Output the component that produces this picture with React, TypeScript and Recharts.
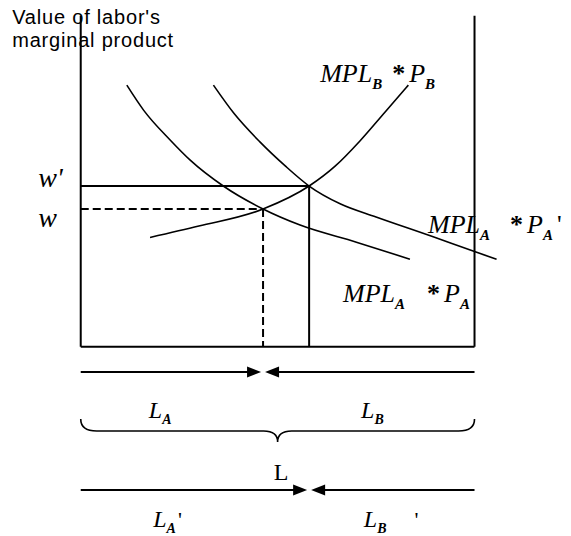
import React from 'react'
import { ComposedChart, Line, XAxis, YAxis, ReferenceLine, ReferenceDot } from 'recharts'

// x: labor going to sector A (0..100 = total L), y: value of labor's marginal product
const mplA = [
  { x: 11.7, y: 83.0 },
  { x: 16.0, y: 75.0 },
  { x: 22.7, y: 65.6 },
  { x: 27.8, y: 59.2 },
  { x: 36.2, y: 51.0 },
  { x: 46.3, y: 43.7 },
  { x: 55.7, y: 38.6 },
  { x: 70.0, y: 33.2 },
  { x: 83.6, y: 27.8 },
]

const mplAPrime = [
  { x: 33.7, y: 83.0 },
  { x: 39.0, y: 73.9 },
  { x: 45.5, y: 65.0 },
  { x: 52.0, y: 57.3 },
  { x: 58.0, y: 51.0 },
  { x: 66.0, y: 45.3 },
  { x: 75.0, y: 41.2 },
  { x: 89.5, y: 34.9 },
  { x: 100.0, y: 30.2 },
  { x: 105.6, y: 27.8 },
]

// sector B's curve, drawn against labor measured from the right wall
const mplB = [
  { x: 17.6, y: 34.7 },
  { x: 30.0, y: 38.3 },
  { x: 46.3, y: 43.7 },
  { x: 58.0, y: 51.0 },
  { x: 64.6, y: 57.3 },
  { x: 70.9, y: 65.3 },
  { x: 77.3, y: 74.5 },
  { x: 83.2, y: 83.0 },
]

const wageLevels = [43.7, 51.0] // w, w'
const laborSplit = [46.3, 58.0] // L_A, L_A'
const totalLabor = 100
const axisTop = 105

// layout
const X_DOMAIN = [-20.5, 124.5]
const Y_DOMAIN = [-60, 110]
const ARROW_ROWS = [-8, -45.4]
const BRACE_Y = -26.7
const SERIF = '"Liberation Serif", "Times New Roman", serif'
const SANS = '"Liberation Sans", Arial, sans-serif'
const INK = '#000'

const ArrowShape = (p: any) => {
  const { x1, y1, x2 } = p
  const dir = Math.sign(x2 - x1)
  const tip = x2 - dir * 2
  const back = tip - dir * 14
  return (
    <g>
      <line x1={x1} y1={y1} x2={back + dir * 2} y2={y1} stroke={INK} strokeWidth={2} />
      <polygon points={`${tip},${y1} ${back},${y1 - 5.5} ${back},${y1 + 5.5}`} fill={INK} />
    </g>
  )
}

const BraceShape = (p: any) => {
  const { x1, x2, y1 } = p
  const mid = (x1 + x2) / 2
  const d =
    `M${x1},${y1 - 12} Q${x1},${y1} ${x1 + 16},${y1} L${mid - 14},${y1} ` +
    `Q${mid},${y1} ${mid},${y1 + 11} Q${mid},${y1} ${mid + 14},${y1} ` +
    `L${x2 - 16},${y1} Q${x2},${y1} ${x2},${y1 - 12}`
  return <path d={d} fill="none" stroke={INK} strokeWidth={1.6} />
}

const mplText = (sub: string, gap: number, prime: boolean) => (p: any) => (
  <text x={p.viewBox.x} y={p.viewBox.y} fontFamily={SERIF} fontStyle="italic" fontSize={26} fill={INK}>
    <tspan>MPL</tspan>
    <tspan dy={7} fontSize={15} fontWeight="bold">{sub}</tspan>
    <tspan dy={-7} dx={gap} fontStyle="normal" fontWeight="bold">*</tspan>
    <tspan dx={4}>P</tspan>
    <tspan dy={7} fontSize={15} fontWeight="bold">{sub}</tspan>
    {prime && <tspan dy={-7} dx={4} fontStyle="normal">'</tspan>}
  </text>
)

const laborText = (sub: string, prime: number | null) => (p: any) => (
  <text x={p.viewBox.x} y={p.viewBox.y} fontFamily={SERIF} fontStyle="italic" fontSize={24} fill={INK}>
    <tspan>L</tspan>
    <tspan dy={6} fontSize={14} fontWeight="bold">{sub}</tspan>
    {prime !== null && <tspan dy={-6} dx={prime} fontStyle="normal" fontSize={22}>'</tspan>}
  </text>
)

const wageText = (txt: string) => (p: any) => (
  <text x={p.viewBox.x} y={p.viewBox.y} fontFamily={SERIF} fontStyle="italic" fontSize={28} fill={INK}>
    {txt}
  </text>
)

const plainText = (txt: string, anchor: string, font: string, size: number, spacing = 0) => (p: any) => (
  <text x={p.viewBox.x} y={p.viewBox.y} textAnchor={anchor} fontFamily={font} fontSize={size} letterSpacing={spacing} fill={INK}>
    {txt}
  </text>
)

const note = (key: string, x: number, y: number, content: any) => (
  <ReferenceDot key={key} x={x} y={y} r={0} fill="none" stroke="none" label={content} />
)

const curve = (key: string, data: { x: number; y: number }[]) => (
  <Line
    key={key}
    data={data}
    dataKey="y"
    type="monotone"
    stroke={INK}
    strokeWidth={1.6}
    dot={false}
    activeDot={false}
    isAnimationActive={false}
  />
)

export default function App() {
  const [w, wPrime] = wageLevels
  const [la, laPrime] = laborSplit
  return (
    <div style={{ position: 'absolute', left: 0, top: 0, width: 571, height: 536, background: '#fff' }}>
      <ComposedChart width={571} height={536} margin={{ top: 0, right: 0, bottom: 0, left: 0 }}>
        <XAxis type="number" dataKey="x" domain={X_DOMAIN} hide allowDataOverflow />
        <YAxis type="number" dataKey="y" domain={Y_DOMAIN} hide allowDataOverflow />

        {/* box: two vertical axes and the floor */}
        <ReferenceLine segment={[{ x: 0, y: axisTop }, { x: 0, y: 0 }]} stroke={INK} strokeWidth={2} />
        <ReferenceLine segment={[{ x: totalLabor, y: axisTop }, { x: totalLabor, y: 0 }]} stroke={INK} strokeWidth={2} />
        <ReferenceLine segment={[{ x: 0, y: 0 }, { x: totalLabor, y: 0 }]} stroke={INK} strokeWidth={2} />

        {/* equilibrium guides */}
        <ReferenceLine segment={[{ x: 0, y: w }, { x: la, y: w }]} stroke={INK} strokeWidth={2} strokeDasharray="8 4" />
        <ReferenceLine segment={[{ x: la, y: w }, { x: la, y: 0 }]} stroke={INK} strokeWidth={2} strokeDasharray="8 4" />
        <ReferenceLine segment={[{ x: 0, y: wPrime }, { x: laPrime, y: wPrime }]} stroke={INK} strokeWidth={2} />
        <ReferenceLine segment={[{ x: laPrime, y: wPrime }, { x: laPrime, y: 0 }]} stroke={INK} strokeWidth={2} />

        {curve('mplA', mplA)}
        {curve('mplAPrime', mplAPrime)}
        {curve('mplB', mplB)}

        {/* labor allocation arrows and brace */}
        <ReferenceLine segment={[{ x: 0, y: ARROW_ROWS[0] }, { x: la, y: ARROW_ROWS[0] }]} shape={ArrowShape} />
        <ReferenceLine segment={[{ x: totalLabor, y: ARROW_ROWS[0] }, { x: la, y: ARROW_ROWS[0] }]} shape={ArrowShape} />
        <ReferenceLine segment={[{ x: 0, y: ARROW_ROWS[1] }, { x: laPrime, y: ARROW_ROWS[1] }]} shape={ArrowShape} />
        <ReferenceLine segment={[{ x: totalLabor, y: ARROW_ROWS[1] }, { x: laPrime, y: ARROW_ROWS[1] }]} shape={ArrowShape} />
        <ReferenceLine segment={[{ x: 0, y: BRACE_Y }, { x: totalLabor, y: BRACE_Y }]} shape={BraceShape} />

        {note('t1', -17.4, 102.4, plainText("Value of labor's", 'start', SANS, 20, 0.8))}
        {note('t2', -17.4, 95.1, plainText('marginal product', 'start', SANS, 20, 0.8))}
        {note('wp', -10.8, wPrime - 0.3, wageText("w'"))}
        {note('w', -10.8, w - 5.7, wageText('w'))}
        {note('mb', 60.8, 84.0, mplText('B', 10, false))}
        {note('map', 88.2, 36.1, mplText('A', 20, true))}
        {note('ma', 66.6, 14.2, mplText('A', 22, false))}
        {note('la', 17.3, -22.6, laborText('A', null))}
        {note('lb', 71.2, -22.6, laborText('B', null))}
        {note('l', 50.9, -42.2, plainText('L', 'middle', SERIF, 24))}
        {note('lap', 18.4, -57.2, laborText('A', 2))}
        {note('lbp', 71.9, -57.2, laborText('B', 28))}
      </ComposedChart>
    </div>
  )
}
